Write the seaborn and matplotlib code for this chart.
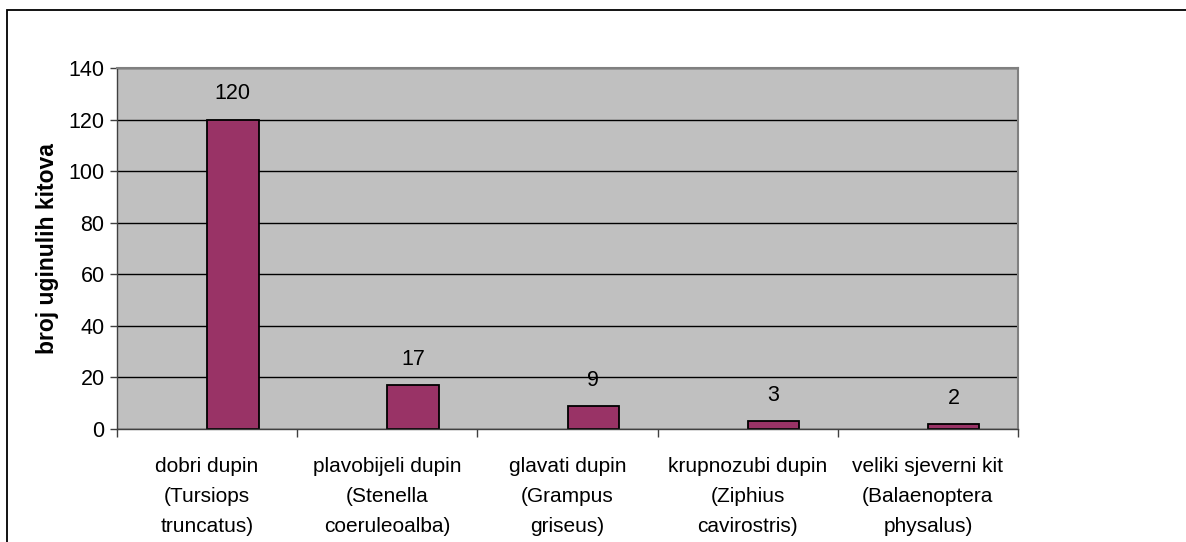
import matplotlib
matplotlib.use("Agg")
import matplotlib.pyplot as plt
import seaborn as sns
import pandas as pd
import numpy as np
from matplotlib.patches import Rectangle

categories = [
    "dobri dupin\n(Tursiops\ntruncatus)",
    "plavobijeli dupin\n(Stenella\ncoeruleoalba)",
    "glavati dupin\n(Grampus\ngriseus)",
    "krupnozubi dupin\n(Ziphius\ncavirostris)",
    "veliki sjeverni kit\n(Balaenoptera\nphysalus)",
]
values = [120, 17, 9, 3, 2]
series_name = "Serija1"
y_ticks = [0, 20, 40, 60, 80, 100, 120, 140]
y_label = "broj uginulih kitova"

sns.set_theme(style="white")
plt.rcParams["font.family"] = ["Liberation Sans", "DejaVu Sans"]

df = pd.DataFrame({"vrsta": categories, "broj": values, "serija": series_name})

W, H = 1186, 542
fig = plt.figure(figsize=(W / 100, H / 100), dpi=100)
ax = fig.add_axes([117 / W, 1 - 429 / H, (1018 - 117) / W, (429 - 68) / H])

sns.barplot(
    data=df, x="vrsta", y="broj", hue="serija",
    hue_order=["_prazno", series_name],
    palette={"_prazno": "#993366", series_name: "#993366"},
    order=categories, width=0.571, dodge=True, edgecolor="black", linewidth=1.3,
    legend=False, ax=ax, errorbar=None, saturation=1,
)

ax.set_facecolor("#C0C0C0")
ax.set_ylim(0, 140)
ax.set_xlim(-0.5, len(categories) - 0.5)
ax.set_yticks(y_ticks)
ax.set_yticklabels([str(t) for t in y_ticks], fontsize=15.5, color="black")
ax.yaxis.grid(True, color="black", linewidth=1.0)
ax.xaxis.grid(False)
ax.set_axisbelow(True)

ax.set_xticks(np.arange(-0.5, len(categories)), labels=[""] * (len(categories) + 1))
ax.set_xticks(np.arange(len(categories)), labels=categories, minor=True)
ax.tick_params(axis="x", which="major", length=6, width=1, color="#404040", direction="out", bottom=True)
ax.tick_params(axis="x", which="minor", length=0, pad=20, labelsize=15, labelcolor="black")
ax.tick_params(axis="y", length=5, width=1, color="#404040", direction="out", left=True, pad=4)
for lbl in ax.get_xticklabels(minor=True):
    lbl.set_linespacing(1.75)

for side in ["top", "right"]:
    ax.spines[side].set_color("#808080")
    ax.spines[side].set_linewidth(1.5)
for side in ["left", "bottom"]:
    ax.spines[side].set_color("#404040")
    ax.spines[side].set_linewidth(1.0)

ax.set_xlabel("")
ax.set_ylabel(y_label, fontsize=16.5, fontweight="bold", labelpad=7, color="black")

for cont in ax.containers:
    ax.bar_label(cont, labels=[f"{v:g}" if not np.isnan(v) else "" for v in cont.datavalues],
                 padding=11, fontsize=15.5, color="black")

fig.patches.append(Rectangle((7 / W, -0.1), 1.2, (H - 10) / H + 0.1,
                             transform=fig.transFigure, fill=False,
                             edgecolor="black", linewidth=1.3, zorder=10))

fig.savefig("out.png", dpi=100, facecolor="white")
